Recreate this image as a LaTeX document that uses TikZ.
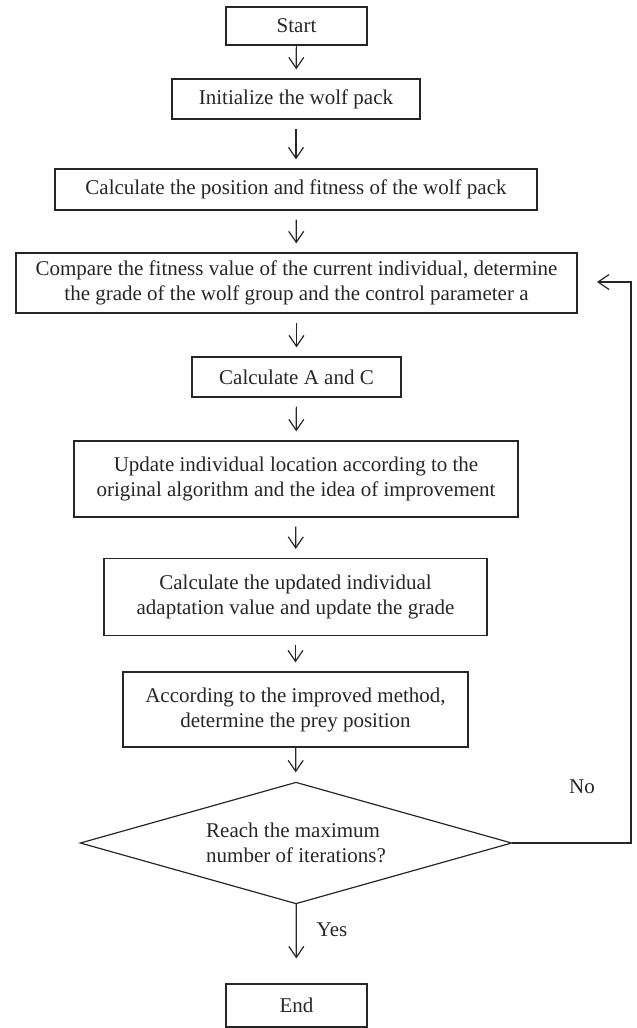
\documentclass[tikz,border=0pt]{standalone}
\usepackage{fontspec}
\setmainfont{Liberation Serif}
\usetikzlibrary{arrows.meta}

\begin{document}
\begin{tikzpicture}[x=1pt,y=-1pt,
	box/.style={draw=black!85, line width=1.2pt, inner sep=0pt, align=center, text=black!85, font=\fontsize{21}{25}\selectfont},
	lbl/.style={text=black!85, font=\fontsize{21}{25}\selectfont},
	arr/.style={-{Straight Barb[length=11pt,width=15pt]}, draw=black!85, line width=1.2pt, shorten <=9pt, shorten >=9pt}]
	\useasboundingbox (0,0) rectangle (637,1028);
	
	% the boxes, from top to bottom
	\node[box, minimum width=141pt, minimum height=38pt] (start) at (296.5,26) {Start};
	\node[box, minimum width=248pt, minimum height=40pt] (init) at (296,99) {Initialize the wolf pack};
	\node[box, minimum width=482pt, minimum height=41pt] (calcpos) at (296,189.5) {Calculate the position and fitness of the wolf pack};
	\node[box, minimum width=561pt, minimum height=60pt] (compare) at (296.5,283) {Compare the fitness value of the current individual, determine\\the grade of the wolf group and the control parameter a};
	\node[box, minimum width=209pt, minimum height=40pt] (calcAC) at (296.5,377) {Calculate A and C};
	\node[box, minimum width=444pt, minimum height=76pt] (update) at (296,479) {Update individual location according to the\\original algorithm and the idea of improvement};
	\node[box, minimum width=383pt, minimum height=77pt] (adapt) at (295.5,597) {Calculate the updated individual\\adaptation value and update the grade};
	\node[box, minimum width=345pt, minimum height=75pt] (prey) at (295.5,709.5) {According to the improved method,\\determine the prey position};
	\node[box, draw=none, align=left, minimum width=430pt, minimum height=120pt] (reach) at (296,843) {Reach the maximum\\number of iterations?};
	\node[box, minimum width=141pt, minimum height=43pt] (end) at (296.5,1005.5) {End};
	
	% decision outline
	\draw[black!85, line width=1.2pt] (reach.north) -- (reach.east) -- (reach.south) -- (reach.west) -- cycle;
	
	\draw[arr, shorten <=0pt] (start) -- (init);
	\draw[arr] (init) -- (calcpos);
	\draw[arr] (calcpos) -- (compare);
	\draw[arr] (compare) -- (calcAC);
	\draw[arr] (calcAC) -- (update);
	\draw[arr] (update) -- (adapt);
	\draw[arr] (adapt) -- (prey);
	\draw[arr, shorten <=0pt, shorten >=10pt] (prey) -- (reach);
	\draw[arr, shorten <=0pt, shorten >=25pt] (reach) -- (end);
	
	% back to the comparison
	\coordinate (loopright) at (631,282);
	\coordinate (backtip) at (597,282);
	\draw[arr, shorten <=0pt, shorten >=0pt] (reach.east) -| (loopright) -- (backtip);
	
	\node[lbl] (no) at (582,787) {No};
	\node[lbl] (yes) at (332,930) {Yes};
\end{tikzpicture}
\end{document}
